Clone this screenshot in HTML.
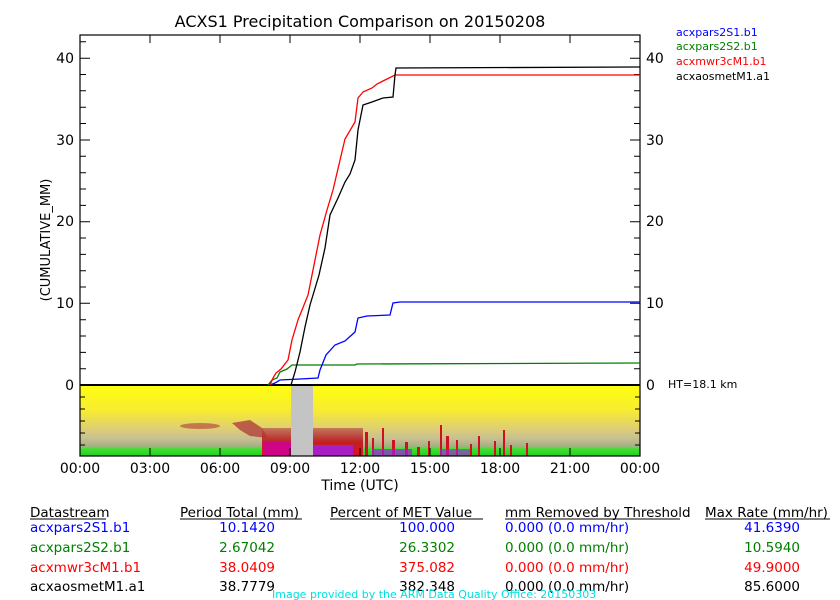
<!DOCTYPE html>
<html><head><meta charset="utf-8"><style>
html,body{margin:0;padding:0;background:#fff;}
svg{display:block;font-family:"DejaVu Sans","Liberation Sans",sans-serif;}
</style></head><body>
<svg width="840" height="600" viewBox="0 0 840 600" xmlns="http://www.w3.org/2000/svg">
<defs>
<linearGradient id="rg" x1="0" y1="0" x2="0" y2="1">
<stop offset="0" stop-color="#ffff10"/>
<stop offset="0.35" stop-color="#f8ec30"/>
<stop offset="0.6" stop-color="#e0d070"/>
<stop offset="0.75" stop-color="#c8c090"/>
<stop offset="0.86" stop-color="#a8b088"/>
<stop offset="0.9" stop-color="#40e030"/>
<stop offset="1" stop-color="#20d020"/>
</linearGradient>
<linearGradient id="dr" x1="0" y1="0" x2="0" y2="1">
<stop offset="0" stop-color="#b04040" stop-opacity="0.6"/>
<stop offset="0.5" stop-color="#c02020"/>
<stop offset="1" stop-color="#e01020"/>
</linearGradient>
</defs>
<text x="360" y="27" font-size="16" text-anchor="middle" fill="#000">ACXS1 Precipitation Comparison on 20150208</text>
<!-- radar -->
<rect x="80" y="385" width="560" height="71" fill="url(#rg)"/>
<!-- features -->
<ellipse cx="200" cy="426" rx="20" ry="3" fill="#b85040" opacity="0.7"/>
<path d="M232,423 L250,420 L262,428 L268,438 L250,436 L240,430 Z" fill="#b04040" opacity="0.8"/>
<rect x="262" y="428" width="29" height="28" fill="url(#dr)"/>
<rect x="264" y="442" width="27" height="14" fill="#d000a0" opacity="0.8"/>
<rect x="313" y="428" width="50" height="28" fill="url(#dr)"/>
<rect x="313" y="445" width="40" height="11" fill="#a020e0" opacity="0.85"/>
<g fill="#d01020">
<rect x="365" y="432" width="3" height="24"/><rect x="372" y="438" width="2" height="18"/>
<rect x="382" y="428" width="2" height="28"/><rect x="392" y="440" width="3" height="16"/>
<rect x="405" y="442" width="3" height="14"/><rect x="417" y="447" width="3" height="9"/>
<rect x="428" y="441" width="2" height="15"/><rect x="440" y="425" width="2" height="31"/>
<rect x="446" y="436" width="3" height="20"/><rect x="456" y="440" width="2" height="16"/>
<rect x="470" y="444" width="2" height="12"/><rect x="478" y="436" width="2" height="20"/>
<rect x="494" y="441" width="2" height="15"/><rect x="503" y="430" width="2" height="26"/>
<rect x="510" y="445" width="2" height="11"/><rect x="526" y="443" width="2" height="13"/>
</g>
<g fill="#a020e0"><rect x="372" y="449" width="40" height="7" opacity="0.7"/><rect x="440" y="449" width="30" height="7" opacity="0.6"/></g>
<rect x="291" y="385" width="22" height="71" fill="#c4c4c4"/>
<!-- axes box -->
<rect x="80" y="35" width="560" height="421" fill="none" stroke="#000" stroke-width="1.2"/>
<line x1="80" y1="385" x2="640" y2="385" stroke="#000" stroke-width="2"/>
<g stroke="#000" stroke-width="1">
<path d="M150,35v8M220,35v8M290,35v8M360,35v8M430,35v8M500,35v8M570,35v8"/>
<path d="M150,456v-8M220,456v-8M290,456v-8M360,456v-8M430,456v-8M500,456v-8M570,456v-8"/>
<path d="M80,58.2h10M80,140h10M80,221.7h10M80,303.3h10M630,58.2h10M630,140h10M630,221.7h10M630,303.3h10"/>
<path d="M80,41.8h6M80,74.5h6M80,90.8h6M80,107.2h6M80,123.5h6M80,156.3h6M80,172.7h6M80,189h6M80,205.4h6M80,238h6M80,254.4h6M80,270.7h6M80,287h6M80,319.7h6M80,336h6M80,352.4h6M80,368.7h6"/>
<path d="M634,41.8h6M634,74.5h6M634,90.8h6M634,107.2h6M634,123.5h6M634,156.3h6M634,172.7h6M634,189h6M634,205.4h6M634,238h6M634,254.4h6M634,270.7h6M634,287h6M634,319.7h6M634,336h6M634,352.4h6M634,368.7h6"/>
<path d="M80,397h5M80,409h5M80,421h5M80,433h5M80,445h5M635,397h5M635,409h5M635,421h5M635,433h5M635,445h5"/>
</g>
<g font-size="14" fill="#000">
<text x="74" y="63" text-anchor="end">40</text><text x="74" y="145" text-anchor="end">30</text>
<text x="74" y="226" text-anchor="end">20</text><text x="74" y="308" text-anchor="end">10</text>
<text x="74" y="390" text-anchor="end">0</text>
<text x="646" y="63">40</text><text x="646" y="145">30</text><text x="646" y="226">20</text><text x="646" y="308">10</text><text x="646" y="390">0</text>
</g>
<text x="668" y="388" font-size="11">HT=18.1 km</text>
<text transform="translate(50,240) rotate(-90)" font-size="13" text-anchor="middle">(CUMULATIVE_MM)</text>
<g font-size="14" text-anchor="middle">
<text x="80" y="473">00:00</text><text x="150" y="473">03:00</text><text x="220" y="473">06:00</text>
<text x="290" y="473">09:00</text><text x="360" y="473">12:00</text><text x="430" y="473">15:00</text>
<text x="500" y="473">18:00</text><text x="570" y="473">21:00</text><text x="640" y="473">00:00</text>
<text x="360" y="490">Time (UTC)</text>
</g>
<!-- series -->
<g fill="none" stroke-width="1.3">
<polyline stroke="#008000" points="268,385 272,380 277,378 280,372 287,369 292,365 355,365 357,364 640,363"/>
<polyline stroke="#0000ff" points="270,385 275,383 280,380 300,379 318,378 320,370 326,355 335,345 345,341 355,332 358,318 367,316 390,315 393,303 400,302 640,302"/>
<polyline stroke="#ff0000" points="270,385 273,378 276,373 281,369 288,360 292,340 298,320 306,300 308,295 313,270 320,235 327,210 333,190 345,139 355,122 358,98 363,92 372,88 377,84 383,81 395,75 640,75"/>
<polyline stroke="#000" points="291,385 295,372 300,352 305,327 310,305 313,295 319,275 325,248 330,215 338,198 345,182 350,174 355,160 358,130 363,105 372,102 383,98 393,97 395,75 396,68 640,67"/>
</g>
<g font-size="11">
<text x="676" y="36" fill="#0000ff">acxpars2S1.b1</text>
<text x="676" y="50" fill="#008000">acxpars2S2.b1</text>
<text x="676" y="65" fill="#ff0000">acxmwr3cM1.b1</text>
<text x="676" y="80" fill="#000">acxaosmetM1.a1</text>
</g>
<!-- table -->
<g font-size="13.5">
<text x="30" y="517">Datastream</text><line x1="30" y1="519" x2="106" y2="519" stroke="#000"/>
<text x="180" y="517">Period Total (mm)</text><line x1="180" y1="519" x2="302" y2="519" stroke="#000"/>
<text x="330" y="517">Percent of MET Value</text><line x1="330" y1="519" x2="483" y2="519" stroke="#000"/>
<text x="505" y="517">mm Removed by Threshold</text><line x1="505" y1="519" x2="680" y2="519" stroke="#000"/>
<text x="705" y="517">Max Rate (mm/hr)</text><line x1="705" y1="519" x2="830" y2="519" stroke="#000"/>
<g fill="#0000ff"><text x="30" y="532">acxpars2S1.b1</text><text x="275" y="532" text-anchor="end">10.1420</text><text x="455" y="532" text-anchor="end">100.000</text><text x="505" y="532">0.000 (0.0 mm/hr)</text><text x="800" y="532" text-anchor="end">41.6390</text></g>
<g fill="#008000"><text x="30" y="552">acxpars2S2.b1</text><text x="275" y="552" text-anchor="end">2.67042</text><text x="455" y="552" text-anchor="end">26.3302</text><text x="505" y="552">0.000 (0.0 mm/hr)</text><text x="800" y="552" text-anchor="end">10.5940</text></g>
<g fill="#ff0000"><text x="30" y="572">acxmwr3cM1.b1</text><text x="275" y="572" text-anchor="end">38.0409</text><text x="455" y="572" text-anchor="end">375.082</text><text x="505" y="572">0.000 (0.0 mm/hr)</text><text x="800" y="572" text-anchor="end">49.9000</text></g>
<g fill="#000"><text x="30" y="591">acxaosmetM1.a1</text><text x="275" y="591" text-anchor="end">38.7779</text><text x="455" y="591" text-anchor="end">382.348</text><text x="505" y="591">0.000 (0.0 mm/hr)</text><text x="800" y="591" text-anchor="end">85.6000</text></g>
</g>
<text x="272" y="598" font-size="11" fill="#00e0e0">Image provided by the ARM Data Quality Office: 20150303</text>
</svg>
</body></html>
